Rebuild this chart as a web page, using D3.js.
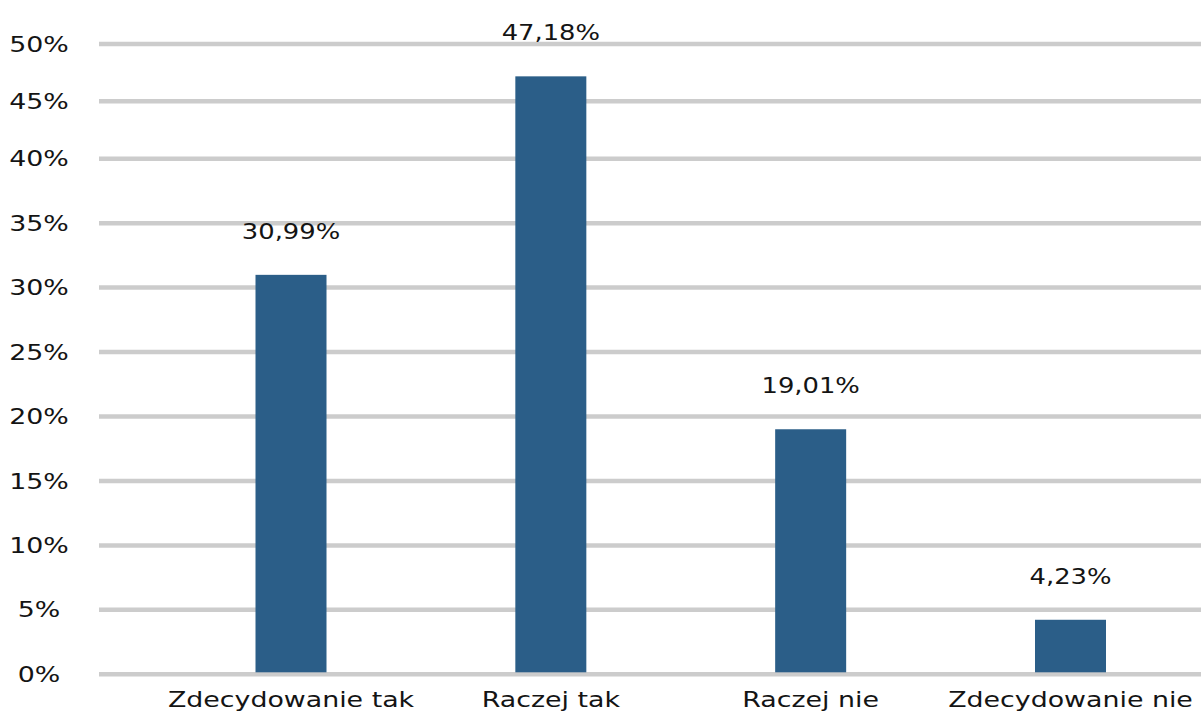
<!DOCTYPE html>
<html lang="pl">
<head>
<meta charset="utf-8">
<script src="https://cdn.jsdelivr.net/npm/d3@7"></script>
<style>
  html, body { margin: 0; padding: 0; background: #ffffff; }
  svg { display: block; }
  text { font-family: "DejaVu Sans", sans-serif; fill: #141414; }
</style>
</head>
<body>
<svg id="chart" width="1201" height="711"></svg>
<script>
// Survey answers and their shares (%)
const categories = ["Zdecydowanie tak", "Raczej tak", "Raczej nie", "Zdecydowanie nie"];
const values = [30.99, 47.18, 19.01, 4.23];

// Y axis ticks and their labels
const yTicks = [0, 5, 10, 15, 20, 25, 30, 35, 40, 45, 50];
const yTickLabels = ["0%", "5%", "10%", "15%", "20%", "25%", "30%", "35%", "40%", "45%", "50%"];

const W = 1201, H = 711;
const plotLeft = 99;
const stretch = 1.22;   // widen glyphs to an extended grotesk look
const barWidth = 71;

const svg = d3.select("#chart");

const pl = d3.formatLocale({ decimal: ",", thousands: " ", grouping: [3], currency: ["", " zł"] });
const pct = v => pl.format(".2f")(v) + "%";

const y = d3.scaleLinear()
  .domain([0, 40, 50])
  .range([674.3, 158.7, 44]);

const x = d3.scalePoint()
  .domain(categories)
  .range([291, 1070.5]);

// horizontal gridlines
svg.append("g")
  .selectAll("line")
  .data(yTicks)
  .join("line")
  .attr("x1", plotLeft)
  .attr("x2", W)
  .attr("y1", d => y(d))
  .attr("y2", d => y(d))
  .attr("stroke", "#cccccc")
  .attr("stroke-width", 4.5);

// y tick labels
svg.append("g")
  .selectAll("text")
  .data(yTicks)
  .join("text")
  .attr("transform", d => `translate(39,${y(d)}) scale(${stretch},1)`)
  .attr("text-anchor", "middle")
  .attr("dominant-baseline", "central")
  .attr("font-size", 22)
  .text((d, i) => yTickLabels[i]);

// bars
svg.append("g")
  .selectAll("rect")
  .data(values)
  .join("rect")
  .attr("x", (d, i) => x(categories[i]) - barWidth / 2)
  .attr("width", barWidth)
  .attr("y", d => y(d))
  .attr("height", d => y(0) - y(d) - 2)
  .attr("fill", "#2b5e88");

// value labels
svg.append("g")
  .selectAll("text")
  .data(values)
  .join("text")
  .attr("transform", (d, i) => `translate(${x(categories[i])},${y(d) - 36}) scale(${stretch + 0.04},1)`)
  .attr("text-anchor", "middle")
  .attr("font-size", 20.5)
  .text(d => pct(d));

// category labels
svg.append("g")
  .selectAll("text")
  .data(categories)
  .join("text")
  .attr("transform", d => `translate(${x(d)},707) scale(${stretch},1)`)
  .attr("text-anchor", "middle")
  .attr("font-size", 22)
  .text(d => d);
</script>
</body>
</html>
